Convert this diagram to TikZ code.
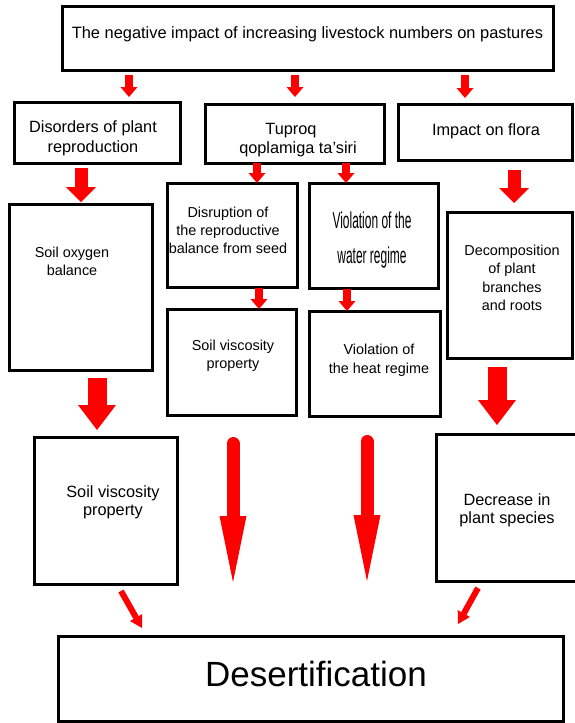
\documentclass[tikz,border=0pt]{standalone}
\usepackage{fontspec}
\setmainfont{Liberation Sans}
\newfontfamily\narrowfont[FakeStretch=0.52]{Liberation Sans}
\usetikzlibrary{arrows.meta,calc}
\begin{document}
\begin{tikzpicture}[x=1pt,y=-1pt,
  box/.style={draw=black,line width=3pt,inner sep=0pt,outer sep=0pt},
  tl/.style={anchor=base,inner sep=0pt,font=\fontsize{16.3}{20}\selectfont},
  ts/.style={anchor=base,inner sep=0pt,font=\fontsize{14.4}{18}\selectfont},
  tw/.style={anchor=base,inner sep=0pt,font=\narrowfont\fontsize{23}{28}\selectfont},
  arrS/.style={draw=red,line width=8pt,-{Triangle[width=17pt,length=10pt,line width=0pt]}},
  arrM/.style={draw=red,line width=13pt,-{Triangle[width=30pt,length=15pt,line width=0pt]}},
  arrL/.style={draw=red,line width=19pt,-{Triangle[width=38pt,length=25pt,line width=0pt]}},
  arrLong/.style={draw=red,line width=13pt,line cap=round,-{Triangle[width=27pt,length=66pt,line width=0pt]}},
  arrD/.style={draw=red,line width=6pt,-{Triangle[width=14pt,length=12pt,line width=0pt]}}
]
\useasboundingbox (0,0) rectangle (575,723);
\fill[white] (0,0) rectangle (575,723);

% boxes
\node[box,minimum width=490.5pt,minimum height=63.5pt] (top) at (307.75,38.25) {};
\node[box,minimum width=165.5pt,minimum height=61pt] (dis) at (97.25,132.5) {};
\node[box,minimum width=179pt,minimum height=59pt] (tup) at (294.5,133.5) {};
\node[box,minimum width=174pt,minimum height=56pt] (imp) at (485,132) {};
\node[box,minimum width=143pt,minimum height=166pt] (oxy) at (80.5,287) {};
\node[box,minimum width=130pt,minimum height=104pt] (disr) at (232,235) {};
\node[box,minimum width=129pt,minimum height=105pt] (wat) at (373.5,235.5) {};
\node[box,minimum width=125pt,minimum height=146pt] (dec) at (509.5,285) {};
\node[box,minimum width=129pt,minimum height=106pt] (vm) at (231.5,362) {};
\node[box,minimum width=131pt,minimum height=105pt] (heat) at (374.5,363.5) {};
\node[box,minimum width=143pt,minimum height=147pt] (vl) at (105.5,510.5) {};
\node[box,minimum width=144pt,minimum height=147pt] (decr) at (508,507.5) {};
\node[box,minimum width=505pt,minimum height=85pt] (des) at (310.5,678.5) {};

% texts
\node[tl,font=\fontsize{16.4}{20}\selectfont] (t1) at (307.5,38) {The negative impact of increasing livestock numbers on pastures};
\node[tl] (dis1) at (93,132) {Disorders of plant};
\node[tl] (dis2) at (93,152) {reproduction};
\node[tl] (tup1) at (291,134) {Tuproq};
\node[tl] (tup2) at (298,153) {qoplamiga ta'siri};
\node[tl] (imp1) at (486,135) {Impact on flora};
\node[ts] (oxy1) at (72,257) {Soil oxygen};
\node[ts] (oxy2) at (72,275) {balance};
\node[ts] (disr1) at (228,217) {Disruption of};
\node[ts] (disr2) at (228,235) {the reproductive};
\node[ts] (disr3) at (228,253) {balance from seed};
\node[tw] (wat1) at (372,228) {Violation of the};
\node[tw] (wat2) at (372,263) {water regime};
\node[ts] (dec1) at (512,255) {Decomposition};
\node[ts] (dec2) at (512,273) {of plant};
\node[ts] (dec3) at (512,292) {branches};
\node[ts] (dec4) at (512,310) {and roots};
\node[ts] (vm1) at (233,350) {Soil viscosity};
\node[ts] (vm2) at (233,368) {property};
\node[ts] (heat1) at (379,354) {Violation of};
\node[ts] (heat2) at (379,373) {the heat regime};
\node[tl] (vl1) at (113,497) {Soil viscosity};
\node[tl] (vl2) at (113,515) {property};
\node[tl] (decr1) at (507,505) {Decrease in};
\node[tl] (decr2) at (507,523) {plant species};
\node[anchor=base,inner sep=0pt,font=\fontsize{35}{40}\selectfont] (des1) at (316,686) {Desertification};

% arrows
\draw[arrS,shorten <=5pt,shorten >=5pt] (top.south -| 129,0) -- (dis.north -| 129,0);
\draw[arrS,shorten <=5pt,shorten >=7pt] (top.south -| 295,0) -- (tup.north -| 295,0);
\draw[arrS,shorten <=5pt,shorten >=6pt] (top.south -| 465,0) -- (imp.north -| 465,0);
\draw[arrM,shorten <=5pt,shorten >=2pt] (dis.south -| 81,0) -- (oxy.north -| 81,0);
\draw[arrS] (tup.south -| 257,0) -- (disr.north -| 257,0);
\draw[arrS] (tup.south -| 346,0) -- (wat.north -| 346,0);
\draw[arrM,shorten <=10pt,shorten >=9pt] (imp.south -| 514,0) -- (dec.north -| 514,0);
\draw[arrS,shorten <=1pt] (disr.south -| 259,0) -- (vm.north -| 259,0);
\draw[arrS,shorten <=1pt] (wat.south -| 347,0) -- (heat.north -| 347,0);
\draw[arrL,shorten <=8pt,shorten >=7pt] (oxy.south -| 97,0) -- (vl.north -| 97,0);
\draw[arrL,shorten <=9pt,shorten >=9pt] (dec.south -| 497,0) -- (decr.north -| 497,0);
\draw[arrLong,shorten <=28.5pt,shorten >=54pt] (vm.south -| 233,0) -- (des.north -| 233,0);
\draw[arrLong,shorten <=25.5pt,shorten >=55pt] (heat.south -| 367,0) -- (des.north -| 367,0);
\draw[arrD] ($(vl.south -| 121,0)+(0,7)$) -- ($(des.north -| 142,0)+(0,-8)$);
\draw[arrD] ($(decr.south -| 478,0)+(0,7)$) -- ($(des.north -| 458,0)+(0,-12)$);
\end{tikzpicture}
\end{document}
